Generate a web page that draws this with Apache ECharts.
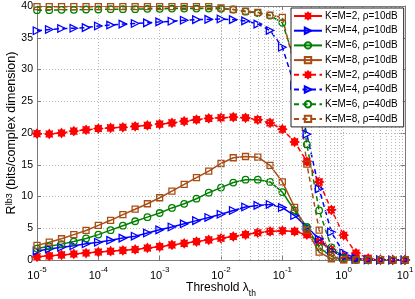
<!DOCTYPE html>
<html><head><meta charset="utf-8">
<script src="https://cdn.jsdelivr.net/npm/echarts/dist/echarts.min.js"></script>
<style>html,body{margin:0;padding:0;background:#fff}#c{width:415px;height:299px}</style>
</head><body><div id="c"></div>
<script>
// Threshold samples (lambda_th)
const thresholds = [1e-5,1.585e-5,2.512e-5,3.981e-5,6.310e-5,
  1e-4,1.585e-4,2.512e-4,3.981e-4,6.310e-4,
  1e-3,1.585e-3,2.512e-3,3.981e-3,6.310e-3,
  1e-2,1.585e-2,2.512e-2,3.981e-2,6.310e-2,
  1e-1,1.585e-1,2.512e-1,3.981e-1,6.310e-1,
  1,1.585,2.512,3.981,6.310,10];
const xTicks = [1e-5,1e-4,1e-3,1e-2,1e-1,1,10];
const yTicks = [0,5,10,15,20,25,30,35,40];
const minorGrid = [2e-5,3e-5,4e-5,5e-5,6e-5,7e-5,8e-5,9e-5,
  2e-4,3e-4,4e-4,5e-4,6e-4,7e-4,8e-4,9e-4,
  2e-3,3e-3,4e-3,5e-3,6e-3,7e-3,8e-3,9e-3,
  2e-2,3e-2,4e-2,5e-2,6e-2,7e-2,8e-2,9e-2,
  2e-1,3e-1,4e-1,5e-1,6e-1,7e-1,8e-1,9e-1,
  2,3,4,5,6,7,8,9];

const km2_10 = [0.5,0.65,0.8,0.95,1.1,1.25,1.38,1.52,1.66,1.9,2.1,2.38,2.62,2.9,3.17,3.42,3.7,4.0,4.3,4.5,4.6,4.5,4.0,2.9,1.6,0.6,0.2,0.05,0.02,0.01,0.01];
const km4_10 = [1.4,1.75,2.0,2.25,2.55,2.8,3.1,3.45,3.75,4.25,4.75,5.2,5.7,6.2,6.7,7.2,7.8,8.35,8.6,8.75,8.25,7.0,5.2,3.3,1.5,0.45,0.1,0.03,0.01,0.01,0.01];
const km6_10 = [1.8,2.15,2.5,2.9,3.4,4.0,4.7,5.4,6.1,6.75,7.4,8.2,8.85,9.65,10.6,11.4,12.2,12.65,12.65,12.3,10.7,7.8,5.2,2.0,0.55,0.1,0.03,0.01,0.01,0.01,0.01];
const km8_10 = [2.3,2.8,3.35,4.0,4.65,5.45,6.25,7.15,8.0,8.86,9.8,10.85,11.9,12.97,14.0,15.2,16.1,16.3,16.2,14.9,12.3,8.3,4.65,1.23,0.2,0.03,0.01,0.01,0.01,0.01,0.01];
const km2_40 = [19.9,19.85,20.0,20.3,20.5,20.7,20.8,20.9,21.05,21.2,21.4,21.6,21.85,22.1,22.3,22.4,22.5,22.4,22.1,21.6,20.6,18.6,15.5,12.3,7.9,3.9,1.1,0.25,0.05,0.02,0.01];
const km4_40 = [36.1,36.3,36.45,36.5,36.6,36.85,37.0,37.15,37.25,37.35,37.5,37.6,37.75,37.85,37.9,37.95,37.85,37.65,37.15,36.15,33.5,27.5,19.8,11.2,4.4,1.1,0.25,0.05,0.02,0.01,0.01];
const km6_40 = [39.35,39.35,39.4,39.4,39.45,39.45,39.5,39.5,39.5,39.55,39.55,39.6,39.6,39.6,39.6,39.55,39.45,39.1,38.9,38.5,37.35,31.5,18.2,7.8,2.0,0.3,0.05,0.02,0.01,0.01,0.01];
const km8_40 = [39.9,39.9,39.9,39.9,39.9,39.9,39.9,39.9,39.9,39.9,39.9,39.9,39.9,39.9,39.9,39.7,39.45,39.2,39.0,38.55,38.2,30.5,15.1,4.7,0.6,0.05,0.01,0.01,0.01,0.01,0.01];

const names = ['K=M=2, \u03c1=10dB','K=M=4, \u03c1=10dB','K=M=6, \u03c1=10dB','K=M=8, \u03c1=10dB',
               'K=M=2, \u03c1=40dB','K=M=4, \u03c1=40dB','K=M=6, \u03c1=40dB','K=M=8, \u03c1=40dB'];
const values = [km2_10,km4_10,km6_10,km8_10,km2_40,km4_40,km6_40,km8_40];

const RED='#ff0000', BLUE='#0000ff', GREEN='#008000', BROWN='#a84c14';
function starPath(n, ro, ri){
  let d='';
  for(let i=0;i<2*n;i++){
    const r = i%2 ? ri : ro;
    const a = Math.PI*i/n - Math.PI/2;
    d += (i?'L':'M') + (r*Math.cos(a)).toFixed(3) + ' ' + (r*Math.sin(a)).toFixed(3);
  }
  return 'path://' + d + 'Z';
}
const STAR = starPath(8, 1, 0.68);
const styles = [
  {color:RED, symbol:STAR, size:8.5, rot:0, fill:RED},
  {color:BLUE, symbol:'triangle', size:7.5, rot:-90, fill:'rgba(255,255,255,0)'},
  {color:GREEN, symbol:'circle', size:6.5, rot:0, fill:'rgba(255,255,255,0)'},
  {color:BROWN, symbol:'rect', size:6, rot:0, fill:'rgba(255,255,255,0)'}
];
const FONT = 'Liberation Sans';

const series = values.map((vals, i) => {
  const st = styles[i % 4];
  const dashed = i >= 4;
  return {
    name: names[i], type: 'line', z: 3,
    data: thresholds.map((t, j) => [t, vals[j]]),
    color: st.color,
    symbol: st.symbol, symbolSize: st.size, symbolRotate: st.rot,
    showAllSymbol: true,
    lineStyle: {color: st.color, width: 1.5, type: dashed ? [5, 3.5] : 'solid'},
    itemStyle: {color: st.fill, borderColor: st.color, borderWidth: 1.3},
    emphasis: {disabled: true}
  };
});
// minor log grid lines
series.unshift({
  name: 'grid', type: 'line', z: 1, data: [], silent: true,
  markLine: {
    silent: true, symbol: 'none', animation: false,
    label: {show: false},
    lineStyle: {color: '#b8b8b8', type: [1, 2], width: 1},
    data: minorGrid.map(v => ({xAxis: v}))
  }
});

const chart = echarts.init(document.getElementById('c'));
const axisLineStyle = {color: '#7a7a7a', width: 1};
chart.setOption({
  animation: false,
  backgroundColor: '#fff',
  textStyle: {fontFamily: FONT},
  grid: {left: 37, right: 10, top: 6, bottom: 39, show: false, containLabel: false, outerBoundsMode: 'none'},
  legend: {
    data: names, orient: 'vertical', left: 291, top: 8,
    backgroundColor: '#fff', borderColor: '#222', borderWidth: 1, borderRadius: 0,
    padding: [2, 6, 2, 2], itemGap: 2.7, itemWidth: 28, itemHeight: 8,
    textStyle: {fontFamily: FONT, fontSize: 10, color: '#000', lineHeight: 12, padding: [0,0,0,-2]},
    selectedMode: false, z: 10
  },
  xAxis: [{
    type: 'log', logBase: 10, min: 1e-5, max: 10,
    axisLine: {show: true, lineStyle: axisLineStyle, onZero: false},
    axisTick: {show: true, inside: true, length: 4, lineStyle: axisLineStyle},
    splitLine: {show: true, lineStyle: {color: '#b8b8b8', type: [1, 2]}},
    axisLabel: {
      margin: 6, color: '#000',
      formatter: v => { const e = Math.round(Math.log10(v)); return '{b|10}{s|' + e + '}'; },
      rich: {
        b: {fontFamily: FONT, fontSize: 11, lineHeight: 15, verticalAlign: 'bottom', color: '#000'},
        s: {fontFamily: FONT, fontSize: 8, lineHeight: 8, verticalAlign: 'top', color: '#000'}
      }
    },
    name: '{t|Threshold \u03bb}{u|th}', nameLocation: 'middle', nameGap: 22, nameMoveOverlap: false,
    nameTextStyle: {
      rich: {
        t: {fontFamily: FONT, fontSize: 12, lineHeight: 16, verticalAlign: 'top', color: '#000'},
        u: {fontFamily: FONT, fontSize: 8.5, lineHeight: 8, verticalAlign: 'bottom', color: '#000'}
      }
    }
  }, {
    type: 'log', logBase: 10, min: 1e-5, max: 10, position: 'top',
    axisLine: {show: true, lineStyle: axisLineStyle, onZero: false},
    axisTick: {show: true, inside: true, length: 4, lineStyle: axisLineStyle},
    axisLabel: {show: false}, splitLine: {show: false}
  }],
  yAxis: [{
    type: 'value', min: 0, max: 40, interval: 5,
    axisLine: {show: true, lineStyle: axisLineStyle, onZero: false},
    axisTick: {show: true, inside: true, length: 4, lineStyle: axisLineStyle},
    splitLine: {show: true, lineStyle: {color: '#b8b8b8', type: [1, 2]}},
    axisLabel: {fontFamily: FONT, fontSize: 10.5, color: '#000', margin: 4},
    name: '{r|R}{s|lb3}{t| (bits/complex dimension)}', nameLocation: 'middle', nameGap: 19, nameRotate: 90, nameMoveOverlap: false,
    nameTextStyle: {
      rich: {
        r: {fontFamily: FONT, fontSize: 12.5, lineHeight: 13, verticalAlign: 'bottom', color: '#000'},
        t: {fontFamily: FONT, fontSize: 12.5, lineHeight: 13, verticalAlign: 'bottom', color: '#000'},
        s: {fontFamily: FONT, fontSize: 9, lineHeight: 9, verticalAlign: 'top', color: '#000'}
      }
    }
  }, {
    type: 'value', min: 0, max: 40, interval: 5, position: 'right',
    axisLine: {show: true, lineStyle: axisLineStyle, onZero: false},
    axisTick: {show: true, inside: true, length: 4, lineStyle: axisLineStyle},
    axisLabel: {show: false}, splitLine: {show: false}
  }],
  series: series
});
</script>
</body></html>
